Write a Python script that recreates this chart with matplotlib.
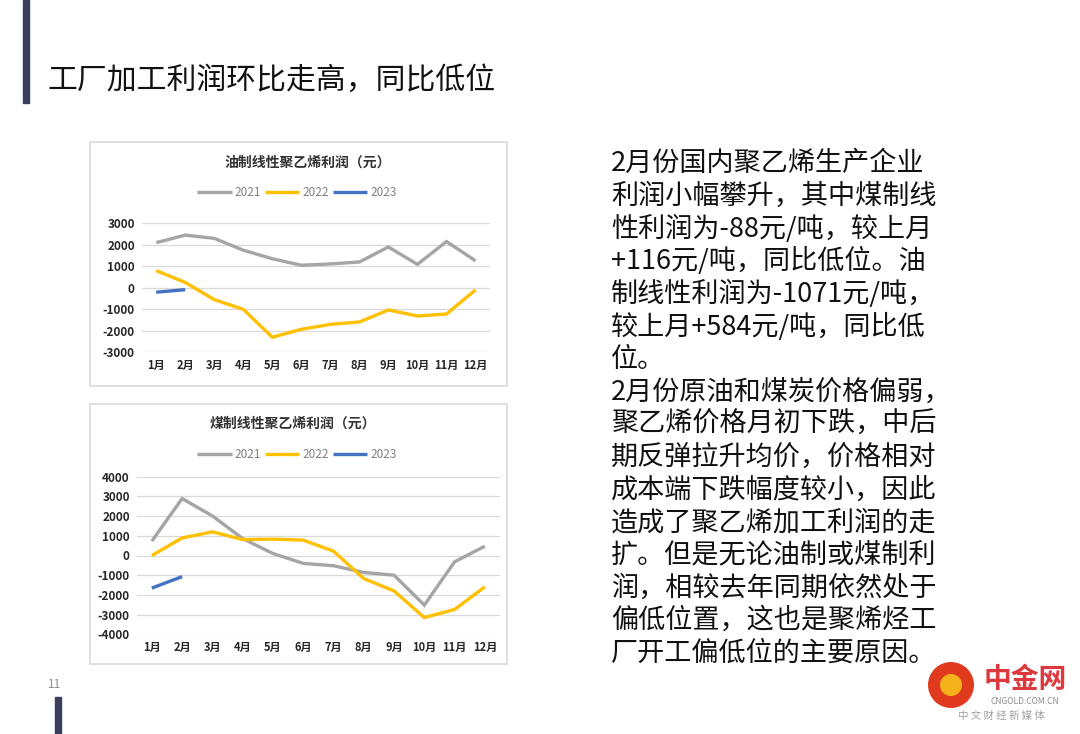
import matplotlib
matplotlib.use("Agg")
import matplotlib.pyplot as plt
from matplotlib.patches import Rectangle, Ellipse

plt.rcParams['font.family'] = ['Noto Sans CJK SC', 'DejaVu Sans']

W, H = 1080, 734

months = ['1月', '2月', '3月', '4月', '5月', '6月', '7月', '8月', '9月', '10月', '11月', '12月']
series_names = ['2021', '2022', '2023']
colors = ['#A5A5A5', '#FFC000', '#4472C4']

oil_title = '油制线性聚乙烯利润（元）'
oil_2021 = [2100, 2450, 2300, 1750, 1350, 1050, 1110, 1200, 1900, 1090, 2150, 1260]
oil_2022 = [800, 250, -550, -1000, -2300, -1930, -1700, -1590, -1030, -1310, -1220, -100]
oil_2023 = [-204, -88]
oil_ticks = [3000, 2000, 1000, 0, -1000, -2000, -3000]

coal_title = '煤制线性聚乙烯利润（元）'
coal_2021 = [730, 2890, 2010, 860, 100, -400, -520, -860, -1000, -2520, -320, 470]
coal_2022 = [0, 890, 1200, 810, 830, 780, 220, -1170, -1800, -3150, -2740, -1590]
coal_2023 = [-1655, -1071]
coal_ticks = [4000, 3000, 2000, 1000, 0, -1000, -2000, -3000, -4000]

page_title = '工厂加工利润环比走高，同比低位'
body_lines = [
    '2月份国内聚乙烯生产企业',
    '利润小幅攀升，其中煤制线',
    '性利润为-88元/吨，较上月',
    '+116元/吨，同比低位。油',
    '制线性利润为-1071元/吨，',
    '较上月+584元/吨，同比低',
    '位。',
    '2月份原油和煤炭价格偏弱，',
    '聚乙烯价格月初下跌，中后',
    '期反弹拉升均价，价格相对',
    '成本端下跌幅度较小，因此',
    '造成了聚乙烯加工利润的走',
    '扩。但是无论油制或煤制利',
    '润，相较去年同期依然处于',
    '偏低位置，这也是聚烯烃工',
    '厂开工偏低位的主要原因。',
]

fig = plt.figure(figsize=(W / 100, H / 100), dpi=100)
fig.patch.set_facecolor('white')


def rect(x0, y0, x1, y1):
    return [x0 / W, 1 - y1 / H, (x1 - x0) / W, (y1 - y0) / H]


def fx(x):
    return x / W


def fy(y):
    return 1 - y / H


# decorative bars
fig.patches.append(Rectangle((fx(23), fy(103)), 6 / W, 103 / H, transform=fig.transFigure,
                             color='#3B3F5C', zorder=-1))
fig.patches.append(Rectangle((fx(55), fy(734)), 6 / W, 37 / H, transform=fig.transFigure,
                             color='#3B3F5C', zorder=-1))

fig.text(fx(47), fy(80), page_title, fontsize=21.5, color='#111111', va='center', ha='left')
fig.text(fx(55), fy(685), '11', fontsize=8.5, color='#8C8C8C', va='center', ha='center')


def draw_chart(box, plot, title, title_xy, legend_xy, data, ticks, ylim):
    bx0, by0, bx1, by1 = box
    fig.patches.append(Rectangle((fx(bx0), fy(by1)), (bx1 - bx0) / W, (by1 - by0) / H,
                                 transform=fig.transFigure, facecolor='white',
                                 edgecolor='#D9D9D9', linewidth=1.2, zorder=-2))
    ax = fig.add_axes(rect(*plot))
    ax.set_facecolor('none')
    x = list(range(len(months)))
    handles = []
    for name, vals, c in zip(series_names, data, colors):
        h, = ax.plot(x[:len(vals)], vals, color=c, linewidth=2.4, solid_capstyle='butt',
                     solid_joinstyle='miter', label=name, zorder=3)
        handles.append(h)
    ax.set_xlim(-0.5, len(months) - 0.5)
    ax.set_ylim(*ylim)
    ax.set_yticks(ticks)
    ax.set_yticklabels([str(t) for t in ticks], fontsize=8.5, fontweight='bold', color='#262626')
    ax.set_xticks(x)
    ax.set_xticklabels(months, fontsize=8, fontweight='bold', color='#262626')
    ax.tick_params(length=0, pad=5)
    ax.grid(axis='y', color='#D9D9D9', linewidth=0.9, zorder=1)
    ax.set_axisbelow(True)
    for s in ax.spines.values():
        s.set_visible(False)
    fig.text(fx(title_xy[0]), fy(title_xy[1]), title, fontsize=10, fontweight='bold',
             color='#333333', ha='center', va='center')
    leg = fig.legend(handles=handles, labels=series_names, loc='center',
                     bbox_to_anchor=(fx(legend_xy[0]), fy(legend_xy[1])), ncol=3,
                     frameon=False, fontsize=8.5, handlelength=2.9, handletextpad=0.25,
                     columnspacing=0.35, borderpad=0)
    for t in leg.get_texts():
        t.set_color('#808080')
    return ax


draw_chart((90, 142, 507, 386), (141.7, 223.3, 490, 352.3), oil_title, (308, 163), (297, 193),
           [oil_2021, oil_2022, oil_2023], oil_ticks, (-3000, 3000))
draw_chart((90, 404, 507, 664), (136.7, 476.7, 500, 634.3), coal_title, (293, 424), (297, 455),
           [coal_2021, coal_2022, coal_2023], coal_ticks, (-4000, 4000))

# body text
y0 = 163.5
step = 32.65
for i, line in enumerate(body_lines):
    fig.text(fx(611), fy(y0 + i * step), line, fontsize=19.5, color='#111111',
             ha='left', va='center')

# watermark logo
fig.patches.append(Ellipse((fx(951), fy(685)), 46 / W, 46 / H, transform=fig.transFigure,
                           facecolor='#E03A1E', edgecolor='none', zorder=2))
fig.patches.append(Ellipse((fx(951), fy(685)), 22 / W, 22 / H, transform=fig.transFigure,
                           facecolor='#F6B21B', edgecolor='none', zorder=3))
fig.text(fx(1025), fy(680), '中金网', fontsize=20, color='#D9232A', ha='center', va='center',
         fontweight='bold', alpha=0.9)
fig.text(fx(1025), fy(702), 'CNGOLD.COM.CN', fontsize=6, color='#8C8C8C', ha='center', va='center')
fig.text(fx(1001), fy(716), '中 文 财 经 新 媒 体', fontsize=7.5, color='#A0A0A0', ha='center',
         va='center')

fig.savefig('out.png', dpi=100, facecolor='white')
